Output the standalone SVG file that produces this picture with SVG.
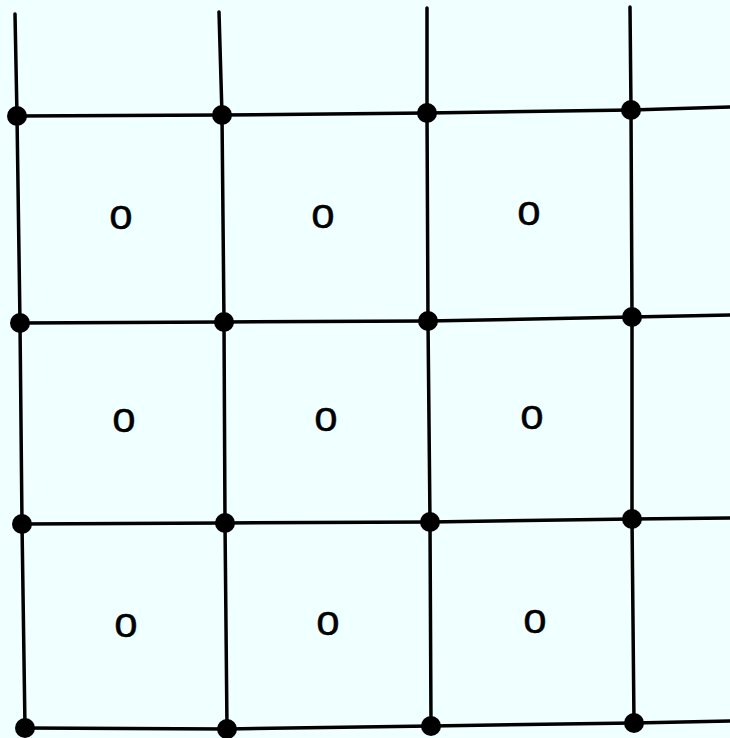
<svg xmlns="http://www.w3.org/2000/svg" width="730" height="738" viewBox="0 0 730 738">
<style>
.ln{stroke:#000;stroke-width:3.5;fill:none;stroke-linecap:round}
.dot{fill:#000}
.o{font-family:"Liberation Sans",Arial,sans-serif;font-size:42px;fill:#000;stroke:#000;stroke-width:0.5;text-anchor:middle}
</style>
<rect width="730" height="738" fill="#F0FFFF"/>
<g id="connectors">
<polyline class="ln" points="15,14 17,116 20,323 22,524 25,728"/>
<polyline class="ln" points="219,12 222,115 224,322 225,523 227,729"/>
<polyline class="ln" points="427,8 427,113 428,321 430,522 431,726"/>
<polyline class="ln" points="630,7 631,110 632,317 632,519 634,723"/>
<polyline class="ln" points="17,116 222,115 427,113 631,110 730,107"/>
<polyline class="ln" points="20,323 224,322 428,321 632,317 730,315"/>
<polyline class="ln" points="22,524 225,523 430,522 632,519 730,518"/>
<polyline class="ln" points="25,728 227,729 431,726 634,723 730,721"/>
</g>
<g id="nodes">
<g id="n11"><circle class="dot" cx="17" cy="116" r="10"/></g>
<g id="n12"><circle class="dot" cx="222" cy="115" r="10"/></g>
<g id="n13"><circle class="dot" cx="427" cy="113" r="10"/></g>
<g id="n14"><circle class="dot" cx="631" cy="110" r="10"/></g>
<g id="n21"><circle class="dot" cx="20" cy="323" r="10"/></g>
<g id="n22"><circle class="dot" cx="224" cy="322" r="10"/></g>
<g id="n23"><circle class="dot" cx="428" cy="321" r="10"/></g>
<g id="n24"><circle class="dot" cx="632" cy="317" r="10"/></g>
<g id="n31"><circle class="dot" cx="22" cy="524" r="10"/></g>
<g id="n32"><circle class="dot" cx="225" cy="523" r="10"/></g>
<g id="n33"><circle class="dot" cx="430" cy="522" r="10"/></g>
<g id="n34"><circle class="dot" cx="632" cy="519" r="10"/></g>
<g id="n41"><circle class="dot" cx="25" cy="728" r="10"/></g>
<g id="n42"><circle class="dot" cx="227" cy="729" r="10"/></g>
<g id="n43"><circle class="dot" cx="431" cy="726" r="10"/></g>
<g id="n44"><circle class="dot" cx="634" cy="723" r="10"/></g>
<g id="c11"><text class="o" x="121" y="229">o</text></g>
<g id="c12"><text class="o" x="323" y="228">o</text></g>
<g id="c13"><text class="o" x="529" y="225">o</text></g>
<g id="c21"><text class="o" x="124" y="432">o</text></g>
<g id="c22"><text class="o" x="326" y="431">o</text></g>
<g id="c23"><text class="o" x="532" y="429">o</text></g>
<g id="c31"><text class="o" x="126" y="637">o</text></g>
<g id="c32"><text class="o" x="328" y="635">o</text></g>
<g id="c33"><text class="o" x="535" y="633">o</text></g>
</g>
</svg>
